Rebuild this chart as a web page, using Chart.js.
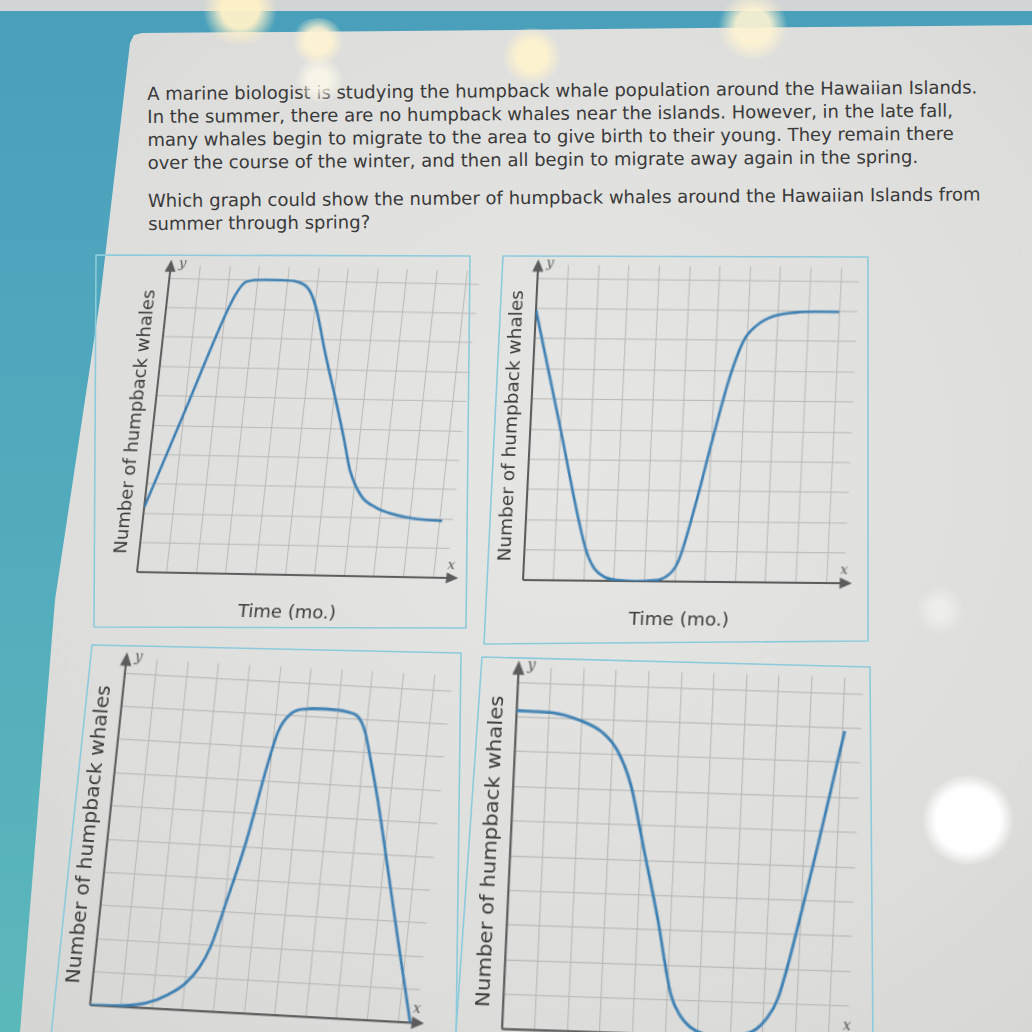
<!DOCTYPE html>
<html lang="en">
<head>
  <meta charset="UTF-8" />
  <title>Humpback whales - which graph?</title>
  <script src="https://cdn.jsdelivr.net/npm/chart.js"></script>
  <style>
    html, body {
      margin: 0;
      width: 1032px;
      height: 1032px;
      overflow: hidden;
    }
    body {
      position: relative;
      font-family: 'DejaVu Sans', Verdana, sans-serif;
      background: linear-gradient(to bottom, #d2d5d5 0, #d2d5d5 11px, #4a9fbb 11px, #50a8bd 400px, #5bb8ba 1032px);
    }
    .paper {
      position: absolute;
      left: 0; top: 0;
      width: 1032px; height: 1032px;
      background: radial-gradient(ellipse at 55% 45%, #e6e6e4 0%, #dddddb 65%, #d5d5d3 100%);
      clip-path: polygon(142px 33px, 134px 35px, 130px 43px, 100px 300px, 55px 600px, 20px 1032px, 1032px 1032px, 1032px 25px, 700px 28px, 400px 31px);
    }
    .frames {
      position: absolute;
      left: 0; top: 0;
    }
    .question {
      position: absolute;
      left: 147px;
      top: 82px;
      font-size: 18px;
      line-height: 23px;
      color: #3a3a3a;
      white-space: nowrap;
      transform: rotate(-0.45deg);
      transform-origin: 0 0;
    }
    .question p { margin: 0 0 15px 0; }
    .panel {
      position: absolute;
      width: 372px;
      height: 378px;
      transform-origin: 42px 317px;
    }
    .panel canvas {
      position: absolute;
      left: 0; top: 0;
    }
    .ylab {
      position: absolute;
      width: 300px;
      left: -127px;
      top: 156px;
      text-align: center;
      font-size: 18px;
      line-height: 22px;
      color: #3c3c3c;
      transform: rotate(-90deg);
    }
    .xlab {
      position: absolute;
      width: 200px;
      left: 96px;
      top: 343px;
      text-align: center;
      font-size: 18px;
      line-height: 22px;
      color: #3c3c3c;
    }
    .glare {
      position: absolute;
      border-radius: 50%;
      pointer-events: none;
    }
  </style>
</head>
<body>
  <div class="paper"></div>

  <!-- the light blue boxes round each graph -->
  <svg class="frames" width="1032" height="1032">
    <g fill="none" stroke="#8ccbdc" stroke-width="1.6" stroke-linejoin="round">
      <polygon points="96,255 470,256 466,628 94,627" />
      <polygon points="503,256 868,257 868,641 484,644" />
      <polygon points="92,645 461,653 456,1045 50,1045" />
      <polygon points="482,657 870,667 873,1045 455,1045" />
    </g>
  </svg>

  <div class="question">
    <p>A marine biologist is studying the humpback whale population around the Hawaiian Islands.<br>
    In the summer, there are no humpback whales near the islands. However, in the late fall,<br>
    many whales begin to migrate to the area to give birth to their young. They remain there<br>
    over the course of the winter, and then all begin to migrate away again in the spring.</p>
    <p>Which graph could show the number of humpback whales around the Hawaiian Islands from<br>
    summer through spring?</p>
  </div>

  <div class="panel" style="left:95px; top:255px; transform: matrix(1, 0.019, -0.11, 1, 0, 0);">
    <canvas id="g1" width="372" height="378"></canvas>
    <div class="ylab">Number of humpback whales</div>
    <div class="xlab">Time (mo.)</div>
  </div>
  <div class="panel" style="left:481px; top:263px; transform: matrix(1.024, 0.0102, -0.0493, 1.027, 0, 0);">
    <canvas id="g2" width="372" height="378"></canvas>
    <div class="ylab">Number of humpback whales</div>
    <div class="xlab">Time (mo.)</div>
  </div>
  <div class="panel" style="left:48px; top:688px; transform: matrix(1.04, 0.0572, -0.1187, 1.13, 0, 0);">
    <canvas id="g3" width="372" height="378"></canvas>
    <div class="ylab">Number of humpback whales</div>
    <div class="xlab">Time (mo.)</div>
  </div>
  <div class="panel" style="left:460px; top:712px; transform: matrix(1.10, 0.0374, -0.0543, 1.18, 0, 0);">
    <canvas id="g4" width="372" height="378"></canvas>
    <div class="ylab">Number of humpback whales</div>
    <div class="xlab">Time (mo.)</div>
  </div>

  <!-- light reflections on the photographed screen -->
  <div class="glare" style="left:200px; top:-25px; width:80px; height:70px; background: radial-gradient(circle, rgba(255,242,200,0.95) 35%, rgba(255,242,200,0) 70%);"></div>
  <div class="glare" style="left:290px; top:18px; width:56px; height:46px; background: radial-gradient(circle, rgba(255,244,210,0.9) 35%, rgba(255,244,210,0) 70%);"></div>
  <div class="glare" style="left:292px; top:58px; width:54px; height:44px; background: radial-gradient(circle, rgba(255,250,235,0.75) 30%, rgba(255,250,235,0) 70%);"></div>
  <div class="glare" style="left:500px; top:28px; width:64px; height:56px; background: radial-gradient(circle, rgba(255,244,205,0.9) 35%, rgba(255,244,205,0) 70%);"></div>
  <div class="glare" style="left:715px; top:-5px; width:76px; height:64px; background: radial-gradient(circle, rgba(255,244,210,0.9) 35%, rgba(255,244,210,0) 70%);"></div>
  <div class="glare" style="left:922px; top:775px; width:92px; height:90px; background: radial-gradient(circle, #ffffff 50%, rgba(255,255,255,0) 72%);"></div>
  <div class="glare" style="left:915px; top:585px; width:50px; height:50px; background: radial-gradient(circle, rgba(255,255,255,0.45) 20%, rgba(255,255,255,0) 70%);"></div>

  <script>
    // curves, in grid squares (x = months, y = whales)
    const g1X = [0, 1.0, 2.1, 2.35, 2.6, 3.2, 3.8, 4.35, 4.75, 5.05, 5.55, 6.1, 6.5, 6.8, 7.3, 7.8, 8.3, 9.1, 10.1];
    const g1Y = [2.2, 5.44, 9.0, 9.6, 9.92, 10.0, 10.0, 9.95, 9.7, 9.1, 7.5, 5.85, 4.6, 3.6, 2.7, 2.35, 2.16, 2.0, 1.93];

    const g2X = [0, 1.0, 2.0, 2.3, 2.7, 3.2, 3.7, 4.2, 4.7, 5.1, 5.6, 6.0, 6.5, 6.9, 7.3, 7.8, 8.6, 9.3, 10.0];
    const g2Y = [8.95, 5.0, 1.1, 0.45, 0.12, 0.02, 0, 0.02, 0.15, 0.7, 2.7, 4.6, 6.8, 8.0, 8.5, 8.8, 8.95, 8.98, 8.98];

    const g3X = [0, 1.0, 1.8, 2.5, 3.0, 3.4, 3.7, 4.0, 4.5, 4.9, 5.15, 5.5, 6.0, 6.6, 7.3, 7.7, 7.95, 8.2, 8.6, 9.2, 9.7, 10.4];
    const g3Y = [0, 0.03, 0.15, 0.45, 0.8, 1.3, 1.95, 3.1, 5.2, 7.4, 8.5, 9.05, 9.22, 9.25, 9.2, 9.05, 8.65, 7.9, 6.6, 4.4, 2.55, 0];

    const g4X = [0, 1.04, 1.98, 2.71, 3.15, 3.6, 4.11, 4.61, 5.13, 5.45, 5.75, 6.2, 6.9, 7.5, 7.8, 8.05, 8.42, 9.11, 10.09];
    const g4Y = [9.18, 9.16, 8.95, 8.6, 8.12, 7.17, 5.26, 3.36, 1.15, 0.55, 0.25, 0.05, 0, 0.1, 0.25, 0.5, 1.16, 4.1, 8.91];

    // axes with arrow heads and the little x / y letters
    const axisArrows = {
      id: 'axisArrows',
      beforeDatasetsDraw(chart) {
        const ctx = chart.ctx;
        const sx = chart.scales.x, sy = chart.scales.y;
        const x0 = sx.getPixelForValue(0), y0 = sy.getPixelForValue(0);
        const xTip = sx.getPixelForValue(10.85), yTip = sy.getPixelForValue(10.62);
        ctx.save();
        ctx.strokeStyle = '#5b5b5b';
        ctx.fillStyle = '#5b5b5b';
        ctx.lineWidth = 2;
        ctx.beginPath();
        ctx.moveTo(x0, y0);
        ctx.lineTo(xTip - 8, y0);
        ctx.moveTo(x0, y0);
        ctx.lineTo(x0, yTip + 8);
        ctx.stroke();
        ctx.beginPath();
        ctx.moveTo(xTip, y0);
        ctx.lineTo(xTip - 12, y0 - 5.5);
        ctx.lineTo(xTip - 12, y0 + 5.5);
        ctx.closePath();
        ctx.fill();
        ctx.beginPath();
        ctx.moveTo(x0, yTip);
        ctx.lineTo(x0 - 5.5, yTip + 12);
        ctx.lineTo(x0 + 5.5, yTip + 12);
        ctx.closePath();
        ctx.fill();
        ctx.fillStyle = '#555';
        ctx.font = 'italic 13px "DejaVu Serif"';
        ctx.fillText('y', x0 + 8, yTip + 7);
        ctx.fillText('x', xTip - 12, y0 - 9);
        ctx.restore();
      }
    };

    function drawGraph(id, xs, ys, xMax) {
      new Chart(document.getElementById(id), {
        type: 'line',
        data: {
          datasets: [{
            data: xs.map((x, i) => ({ x: x, y: ys[i] })),
            borderColor: '#3c7fb2',
            borderWidth: 2.6,
            pointRadius: 0,
            fill: false,
            cubicInterpolationMode: 'monotone'
          }]
        },
        options: {
          responsive: false,
          animation: false,
          layout: { padding: { left: 42, top: 9.8, right: 330 - xMax * 29.6, bottom: 61 } },
          plugins: { legend: { display: false }, tooltip: { enabled: false } },
          scales: {
            x: {
              type: 'linear', min: 0, max: xMax,
              ticks: { display: false, stepSize: 1, includeBounds: false },
              grid: { color: '#b9b9b9', lineWidth: 1, drawTicks: false },
              border: { display: false }
            },
            y: {
              type: 'linear', min: 0, max: 10.45,
              ticks: { display: false, stepSize: 1, includeBounds: false },
              grid: { color: '#b9b9b9', lineWidth: 1, drawTicks: false },
              border: { display: false }
            }
          }
        },
        plugins: [axisArrows]
      });
    }

    drawGraph('g1', g1X, g1Y, 10.45);
    drawGraph('g2', g2X, g2Y, 10.6);
    drawGraph('g3', g3X, g3Y, 10.6);
    drawGraph('g4', g4X, g4Y, 10.6);
  </script>
</body>
</html>
